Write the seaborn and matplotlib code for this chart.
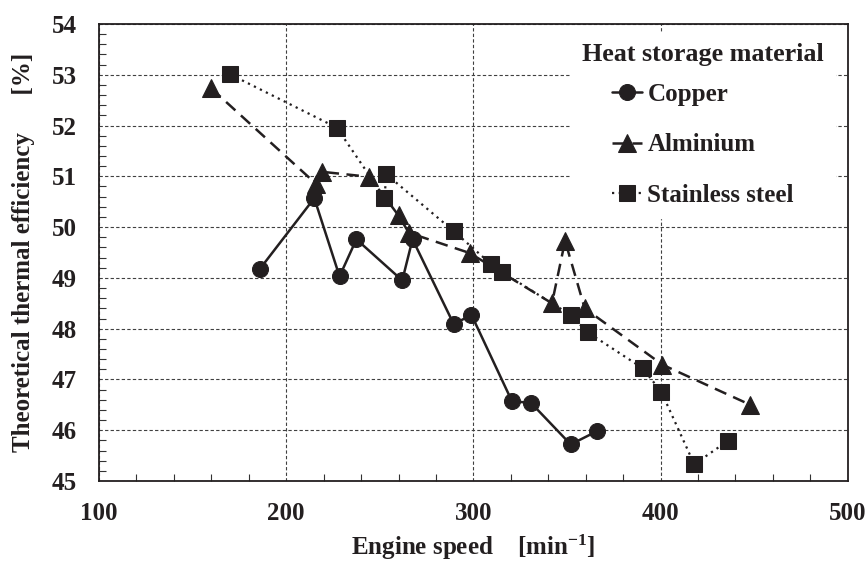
import matplotlib
matplotlib.use("Agg")
import matplotlib.pyplot as plt
import seaborn as sns
import pandas as pd
from matplotlib.ticker import MultipleLocator

# engine speed [min^-1] and theoretical thermal efficiency [%]
copper_speed = [186, 215, 228.5, 237.5, 262, 267.5, 289.5, 299, 320.5, 331, 352, 366]
copper_eff = [49.18, 50.57, 49.03, 49.76, 48.95, 49.76, 48.09, 48.27, 46.58, 46.53, 45.72, 45.98]

alu_speed = [160, 216, 219, 244.5, 260, 265.5, 298, 342, 349, 359.5, 401, 448]
alu_eff = [52.73, 50.85, 51.09, 50.99, 50.23, 49.89, 49.49, 48.50, 49.73, 48.40, 47.29, 46.50]

steel_speed = [170, 227, 252.5, 253.5, 289.5, 309.5, 315.5, 352, 361, 390.5, 400.5, 418, 436]
steel_eff = [53.01, 51.96, 50.58, 51.04, 49.92, 49.27, 49.11, 48.27, 47.93, 47.22, 46.75, 45.33, 45.79]

copper = pd.DataFrame({"speed": copper_speed, "eff": copper_eff})
alu = pd.DataFrame({"speed": alu_speed, "eff": alu_eff})
steel = pd.DataFrame({"speed": steel_speed, "eff": steel_eff})

sns.set_style("white")
plt.rcParams["font.family"] = ["Liberation Serif", "DejaVu Serif"]
plt.rcParams["font.weight"] = "bold"
plt.rcParams["mathtext.fontset"] = "custom"
plt.rcParams["mathtext.rm"] = "Liberation Serif:bold"
plt.rcParams["mathtext.default"] = "rm"

ink = "#231f20"
fs = 18

fig = plt.figure(figsize=(8.65, 5.61), dpi=100)
ax = fig.add_axes([0.1145, 0.1426, 0.8655, 0.8146])

sns.lineplot(data=copper, x="speed", y="eff", ax=ax, sort=False, color=ink,
             marker="o", markersize=11.5, markeredgecolor=ink, linewidth=1.8,
             label="Copper")
sns.lineplot(data=alu, x="speed", y="eff", ax=ax, sort=False, color=ink,
             marker="^", markersize=12.5, markeredgecolor=ink, linewidth=1.8,
             linestyle=(0, (5, 3)), label="Alminium")
sns.lineplot(data=steel, x="speed", y="eff", ax=ax, sort=False, color=ink,
             marker="s", markersize=11, markeredgecolor=ink, linewidth=1.6,
             linestyle=(0, (1, 2)), label="Stainless steel")

ax.set_xlim(100, 500)
ax.set_ylim(45, 54)
ax.xaxis.set_major_locator(MultipleLocator(100))
ax.xaxis.set_minor_locator(MultipleLocator(20))
ax.yaxis.set_major_locator(MultipleLocator(1))
ax.yaxis.set_minor_locator(MultipleLocator(0.2))
ax.tick_params(axis="both", which="both", direction="in", bottom=True, left=True,
               top=False, right=False, labelsize=fs, labelcolor=ink)
ax.tick_params(axis="both", which="major", length=0)
ax.tick_params(axis="both", which="minor", length=5, width=0.8, color="0.2")
ax.tick_params(axis="x", which="major", pad=15)
ax.tick_params(axis="y", which="major", pad=16)

ax.grid(True, which="major", color="0.25", linestyle=(0, (3, 2)), linewidth=0.8)
for s in ax.spines.values():
    s.set_color(ink)
    s.set_linewidth(1.3)

ax.set_xlabel("Engine speed    [min$^{-1}$]", fontsize=fs, fontweight="bold",
              labelpad=6, color=ink)
ax.set_ylabel("Theoretical thermal efficiency      [%]", fontsize=fs, fontweight="bold",
              labelpad=12, color=ink)

leg = ax.legend(title="Heat storage material", loc="upper right",
                bbox_to_anchor=(1.0, 1.01), fontsize=fs, title_fontsize=18.8,
                frameon=True, facecolor="white", edgecolor="white", framealpha=1,
                fancybox=False, handlelength=1.2, handletextpad=0.2,
                labelspacing=1.1, borderpad=0.45)
leg.get_title().set_fontweight("bold")
leg.get_title().set_color(ink)
leg._legend_box.sep = 12
for t in leg.get_texts():
    t.set_fontweight("bold")
    t.set_color(ink)

plt.savefig("out.png", dpi=100)
plt.close()
